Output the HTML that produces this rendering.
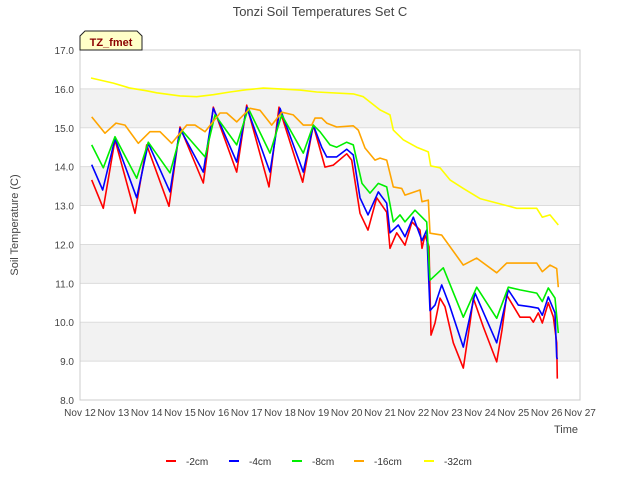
<!DOCTYPE html>
<html><head><meta charset="utf-8"><style>
body{margin:0;background:#fff;font-family:"Liberation Sans",sans-serif}
svg text{font-family:"Liberation Sans",sans-serif}
</style></head><body>
<svg id="chart" width="640" height="480" xmlns="http://www.w3.org/2000/svg">
<rect width="640" height="480" fill="#fff"/>
<text x="320" y="16" text-anchor="middle" font-size="13" fill="#444">Tonzi Soil Temperatures Set C</text>
<g id="bands"></g>
<g id="grid"></g>
<rect x="80" y="50" width="500" height="350" fill="none" stroke="#ccc"/>
<g id="yticks"></g>
<g id="xticks"></g>
<g id="series"></g>
<text transform="translate(18,225) rotate(-90)" text-anchor="middle" font-size="11" fill="#444">Soil Temperature (C)</text>
<text x="566" y="433" text-anchor="middle" font-size="11" fill="#444">Time</text>
<g>
<path d="M80,50 L80,36 L85,31 L137,31 L142,36 L142,50 Z" fill="#ffffc8" stroke="#222" stroke-width="1"/>
<text x="111" y="46" text-anchor="middle" font-size="11" font-weight="bold" fill="#8b0000">TZ_fmet</text>
</g>
<g id="legend"></g>
</svg>
<script>
const yTicks=[8,9,10,11,12,13,14,15,16,17];
const xTickLabels=["Nov 12","Nov 13","Nov 14","Nov 15","Nov 16","Nov 17","Nov 18","Nov 19","Nov 20","Nov 21","Nov 22","Nov 23","Nov 24","Nov 25","Nov 26","Nov 27"];
const seriesNames=["-2cm","-4cm","-8cm","-16cm","-32cm"];
const seriesColors=["#ff0000","#0000ff","#00ee00","#ffa500","#ffff00"];
const daysRed=[0.35,0.7,1.05,1.65,2.0,2.67,3.0,3.7,4.0,4.7,5.0,5.67,5.97,6.68,7.0,7.35,7.6,8.0,8.15,8.4,8.64,8.9,9.2,9.3,9.5,9.75,9.96,10.2,10.26,10.35,10.47,10.53,10.65,10.8,10.95,11.2,11.5,11.7,11.8,12.1,12.5,12.66,12.8,13.2,13.5,13.6,13.75,13.87,14.05,14.2,14.3,14.32];
const tempRed=[13.66,12.93,14.69,12.8,14.56,12.98,15.02,13.58,15.53,13.86,15.58,13.48,15.53,13.6,15.07,13.99,14.04,14.33,14.17,12.8,12.37,13.2,12.83,11.9,12.3,11.98,12.58,12.37,11.9,12.24,11.94,9.67,9.98,10.62,10.4,9.47,8.82,9.98,10.62,9.88,8.98,9.8,10.7,10.13,10.13,10.0,10.24,9.98,10.5,10.14,9.47,8.55];
const daysBlue=[0.35,0.68,1.05,1.7,2.05,2.7,3.0,3.7,4.0,4.7,5.0,5.7,6.0,6.7,7.0,7.25,7.4,7.7,8.0,8.2,8.4,8.64,8.95,9.2,9.3,9.55,9.75,10.0,10.26,10.4,10.5,10.65,10.85,11.1,11.5,11.85,12.5,12.85,13.15,13.5,13.75,13.87,14.05,14.25,14.3,14.32];
const tempBlue=[14.05,13.4,14.72,13.2,14.6,13.35,14.98,13.86,15.5,14.12,15.53,13.86,15.5,13.86,15.07,14.5,14.25,14.25,14.45,14.3,13.2,12.76,13.35,13.06,12.3,12.5,12.2,12.7,12.1,12.37,10.3,10.44,10.96,10.4,9.36,10.75,9.47,10.83,10.44,10.4,10.36,10.18,10.65,10.24,9.1,9.05];
const daysGreen=[0.35,0.7,1.05,1.7,2.05,2.7,3.05,3.75,4.05,4.7,5.05,5.7,6.05,6.7,7.0,7.2,7.5,7.7,8.0,8.2,8.46,8.7,8.95,9.2,9.4,9.6,9.75,10.05,10.26,10.4,10.5,10.9,11.5,11.9,12.5,12.85,13.2,13.7,13.87,14.05,14.25,14.35];
const tempGreen=[14.56,13.97,14.77,13.7,14.63,13.84,14.94,14.25,15.33,14.56,15.5,14.35,15.33,14.35,15.07,14.9,14.56,14.5,14.63,14.56,13.57,13.32,13.57,13.48,12.58,12.76,12.58,12.88,12.7,12.58,11.08,11.4,10.13,10.9,10.1,10.9,10.83,10.75,10.53,10.88,10.62,9.72];
const daysOrange=[0.35,0.75,1.08,1.35,1.75,2.1,2.4,2.75,3.2,3.45,3.75,4.2,4.4,4.7,5.1,5.4,5.75,6.05,6.4,6.7,6.95,7.05,7.25,7.4,7.7,8.2,8.35,8.55,8.85,9.0,9.2,9.4,9.65,9.75,10.2,10.26,10.45,10.5,10.85,11.5,11.9,12.5,12.8,13.7,13.87,14.1,14.3,14.35];
const tempOrange=[15.28,14.86,15.12,15.07,14.6,14.9,14.9,14.6,15.07,15.07,14.9,15.38,15.38,15.15,15.5,15.45,15.07,15.4,15.33,15.07,15.07,15.25,15.25,15.12,15.02,15.05,14.94,14.48,14.17,14.22,14.17,13.48,13.44,13.27,13.4,13.1,13.14,12.29,12.24,11.47,11.65,11.27,11.52,11.52,11.3,11.47,11.38,10.9];
const daysYellow=[0.33,1.0,1.5,2.0,2.3,3.0,3.5,4.0,4.5,5.0,5.5,6.0,6.6,7.1,8.2,8.5,9.0,9.3,9.4,9.7,10.1,10.45,10.52,10.8,11.1,11.5,12.0,12.8,13.1,13.7,13.87,14.1,14.35];
const tempYellow=[16.28,16.15,16.02,15.95,15.9,15.82,15.8,15.85,15.92,15.98,16.02,16.0,15.97,15.92,15.87,15.8,15.46,15.33,14.94,14.69,14.5,14.38,14.02,13.97,13.66,13.44,13.18,13.0,12.93,12.93,12.7,12.76,12.5];
const allDays=[daysRed,daysBlue,daysGreen,daysOrange,daysYellow];
const allTemps=[tempRed,tempBlue,tempGreen,tempOrange,tempYellow];

const X0=80,X1=580,Y0=400,Y1=50,DMIN=0,DMAX=15,TMIN=8,TMAX=17;
const xs=d=>X0+(d-DMIN)/(DMAX-DMIN)*(X1-X0);
const ys=t=>Y0-(t-TMIN)/(TMAX-TMIN)*(Y0-Y1);
const NS="http://www.w3.org/2000/svg";
function mk(tag,attrs,parent,txt){const e=document.createElementNS(NS,tag);for(const k in attrs)e.setAttribute(k,attrs[k]);if(txt!==undefined)e.textContent=txt;parent.appendChild(e);return e;}
const bands=document.getElementById('bands'),grid=document.getElementById('grid'),yt=document.getElementById('yticks'),xt=document.getElementById('xticks'),sg=document.getElementById('series'),lg=document.getElementById('legend');
for(let i=0;i<yTicks.length-1;i++){
  if(i%2===1){const r=mk('rect',{x:X0,y:ys(yTicks[i+1]),width:X1-X0,height:ys(yTicks[i])-ys(yTicks[i+1]),fill:'#f2f2f2'},bands);
  
  }
}
yTicks.forEach(t=>{
  const l=mk('line',{x1:X0,x2:X1,y1:ys(t),y2:ys(t),stroke:'#dcdcdc'},grid);
  
  
  const tx=mk('text',{x:X0-6,y:ys(t)+4,'text-anchor':'end','font-size':'10',fill:'#444'},yt,t.toFixed(1));
  
  
});
xTickLabels.forEach((s,i)=>{
  const tx=mk('text',{x:xs(i),y:416,'text-anchor':'middle','font-size':'10',fill:'#444'},xt,s);
  
  
});
allDays.forEach((dd,si)=>{
  const pts=dd.map((d,i)=>xs(d).toFixed(1)+','+ys(allTemps[si][i]).toFixed(1)).join(' ');
  const p=mk('polyline',{points:pts,fill:'none',stroke:seriesColors[si],'stroke-width':'1.6','stroke-linejoin':'round'},sg);
  
  
});
const legX=[166,229,292,354,424];
seriesNames.forEach((n,i)=>{
  const g=mk('g',{},lg);
  
  
  mk('line',{x1:legX[i],x2:legX[i]+10,y1:461,y2:461,stroke:seriesColors[i],'stroke-width':'2'},g);
  mk('text',{x:legX[i]+20,y:465,'font-size':'10',fill:'#333'},g,n);
});
</script>
</body></html>
